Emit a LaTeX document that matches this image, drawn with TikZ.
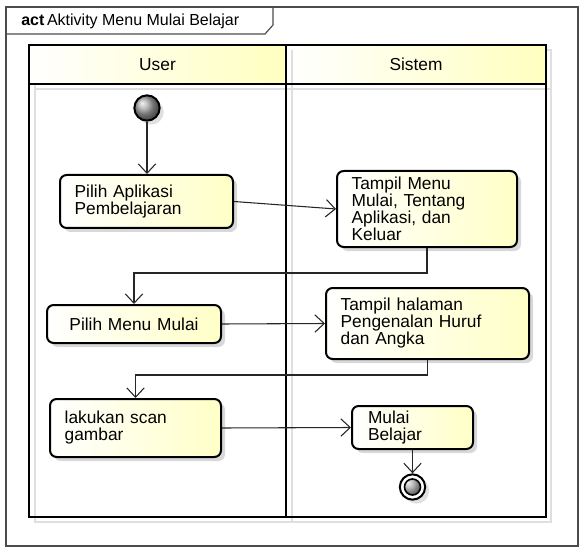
\documentclass[tikz,border=0pt]{standalone}
\usepackage{fontspec}
\setmainfont{Liberation Sans}
\usetikzlibrary{arrows.meta}
\usetikzlibrary{shadows}

\begin{document}
\begin{tikzpicture}[
                x=0.75pt, y=-0.75pt,
                act/.style = {
                    draw,
                    rounded corners=5pt,
                    line width=1.5pt,
                    left color=white,
                    right color=yellow!22,
                    drop shadow={shadow xshift=3pt, shadow yshift=-3pt, fill=gray!60, opacity=0.5},
                    align=left,
                    inner xsep=11pt,
                    inner ysep=0pt,
                    text width=#1,
                    font=\fontsize{13}{12.75}\selectfont
                },
                act/.default = 100pt,
                lanehead/.style = {
                    font=\fontsize{13}{15}\selectfont,
                    inner sep=0pt
                },
                start/.style = {
                    draw,
                    circle,
                    line width=1.5pt,
                    minimum size=19pt,
                    inner sep=0pt,
                    shading=ball,
                    ball color=gray!70,
                    drop shadow={shadow xshift=3pt, shadow yshift=-3pt, fill=gray!60, opacity=0.4}
                },
                final/.style = {
                    draw,
                    circle,
                    line width=1.5pt,
                    minimum size=19pt,
                    inner sep=0pt,
                    fill=white,
                    drop shadow={shadow xshift=3pt, shadow yshift=-3pt, fill=gray!60, opacity=0.4},
                    path picture={
                        \shade[ball color=gray!70] (path picture bounding box.center) circle (6pt);
                        \draw[line width=1.2pt] (path picture bounding box.center) circle (6pt);
                    }
                },
                flow/.style = {
                    draw,
                    black!85,
                    line width=0.8pt,
                    -{Straight Barb[length=7pt, width=13pt]}
                },
                frame/.style = {draw, black!70, line width=0.9pt},
                lane/.style = {draw, black, line width=2pt},
                laneshadow/.style = {draw, gray!25, line width=2pt}
            ]
            \useasboundingbox (0,0) rectangle (582,549);
            % 
            % frame and title
            \draw[frame] (6,7) rectangle (578,546);
            \draw[frame] (6,34) -- (265,34) -- (273,25) -- (273,7);
            \node[anchor=west, inner sep=0pt, font=\fontsize{12}{14}\selectfont] (title) at (21,21) {\textbf{act}\,Aktivity Menu Mulai Belajar};
            % 
            % swimlanes
            \draw[laneshadow] (35,50) rectangle (551,522);
            \shade[left color=white, right color=yellow!25] (29,45) rectangle (286,84);
            \shade[left color=white, right color=yellow!25] (286,45) rectangle (546,84);
            \draw[laneshadow] (292,50) -- (292,522);
            \draw[laneshadow] (35,89) -- (551,89);
            \draw[lane] (29,45) rectangle (546,517);
            \draw[lane] (286,45) -- (286,517);
            \draw[lane] (29,84) -- (546,84);
            \node[lanehead] (user) at (157.5,64.5) {User};
            \node[lanehead] (sistem) at (416,64.5) {Sistem};
            % 
            % actions
            \node[start] (start) at (147,108) {};
            \node[act=107.75pt, minimum height=39.75pt] (pilih) at (146.5,201.5) {Pilih Aplikasi\\Pembelajaran};
            \node[act=113pt, minimum height=57pt] (tampil) at (427,209) {Tampil Menu\\Mulai, Tentang\\Aplikasi, dan\\Keluar};
            % 
            \node[act=108.5pt, align=center, minimum height=28.5pt] (menu) at (134,324) {Pilih Menu Mulai};
            \node[act=130.25pt, minimum height=53.25pt] (halaman) at (427.5,323.5) {Tampil halaman\\Pengenalan Huruf\\dan Angka};
            % 
            \node[act=106.25pt, minimum height=43.5pt] (scan) at (135.5,428) {lakukan scan\\gambar};
            \node[act=66.75pt, inner xsep=12pt, minimum height=32.25pt] (belajar) at (412.5,427.5) {Mulai\\Belajar};
            \node[final] (final) at (412.5,487) {};
            % 
            % flows
            \draw[flow] (start) -- (start |- pilih.north);
            \draw[flow] (pilih.east) -- (tampil.west);
            \draw[flow] (tampil.south) -- ++(0,25) -| (menu.north);
            \draw[flow] (menu.east) -- (halaman.west);
            \draw[flow] (halaman.south) -- ++(0,15) -| (scan.north);
            \draw[flow] (scan.east) -- (belajar.west);
            \draw[flow] (belajar) -- (final);
            % 
        \end{tikzpicture}
\end{document}
